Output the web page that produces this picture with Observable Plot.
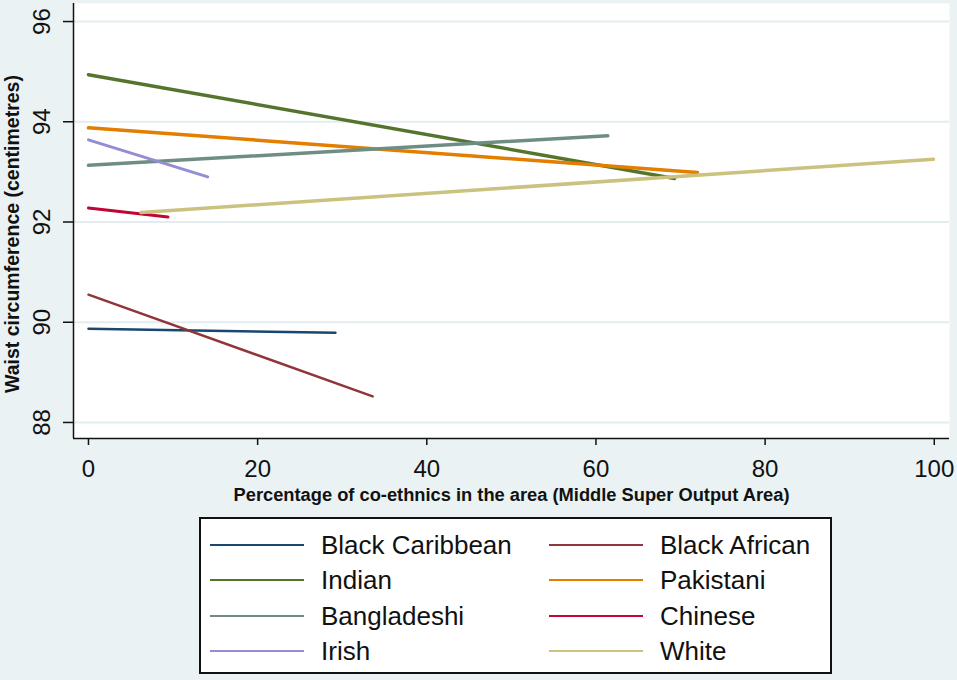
<!DOCTYPE html>
<html>
<head>
<meta charset="utf-8">
<script src="https://cdn.jsdelivr.net/npm/d3@7"></script>
<script src="https://cdn.jsdelivr.net/npm/@observablehq/plot@0.6"></script>
<style>
  html, body { margin: 0; padding: 0; background: #EAF2F3; }
  #wrap { position: relative; width: 957px; height: 680px; background: #EAF2F3; font-family: "Liberation Sans", Arial, sans-serif; }
  #legend { position: absolute; left: 199px; top: 517px; width: 629px; height: 153px; background: #fff; border: 2px solid #111; box-sizing: content-box; }
  .item { position: absolute; height: 30px; }
  .sw { position: absolute; top: 14px; width: 94px; height: 2px; }
  .lb { position: absolute; left: 111px; top: 0; font-size: 26px; line-height: 30px; color: #111; white-space: nowrap; }
</style>
</head>
<body>
<div id="wrap"><div id="chart"></div><div id="legend"></div></div>
<script>
// Categories and colours (Stata s2color palette)
const groups = ["Black Caribbean", "Black African", "Indian", "Pakistani", "Bangladeshi", "Chinese", "Irish", "White"];
const colors = ["#1a476f", "#90353b", "#55752f", "#e37e00", "#6e8e84", "#c10534", "#938dd2", "#cac27e"];
// Line endpoints: percentage of co-ethnics (x) and predicted waist (y)
const xStart = [0, 0, 0, 0, 0, 0, 0, 6.2];
const xEnd   = [29.2, 33.6, 69.3, 72.0, 61.4, 9.4, 14.1, 99.9];
const yStart = [89.87, 90.55, 94.94, 93.88, 93.13, 92.28, 93.64, 92.19];
const yEnd   = [89.79, 88.52, 92.87, 92.99, 93.72, 92.10, 92.90, 93.25];
const widths = [2.5, 2.5, 3.5, 3.5, 3.5, 3, 3, 3.5];
const xTicks = [0, 20, 40, 60, 80, 100];
const yTicks = [88, 90, 92, 94, 96];
const xDomain = [-1.77, 101.8];
const yDomain = [87.68, 96.36];

const rows = [];
groups.forEach((g, i) => {
  rows.push({group: g, x: xStart[i], y: yStart[i]});
  rows.push({group: g, x: xEnd[i], y: yEnd[i]});
});

const font = "Liberation Sans, Arial, sans-serif";
const chart = Plot.plot({
  width: 957,
  height: 510,
  marginLeft: 73,
  marginRight: 8,
  marginTop: 3,
  marginBottom: 72,
  style: {background: "transparent", fontFamily: font, color: "#111"},
  x: {domain: xDomain, ticks: xTicks},
  y: {domain: yDomain, ticks: yTicks},
  marks: [
    Plot.frame({fill: "white", stroke: null}),
    Plot.gridY(yTicks, {stroke: "#E3EDEF", strokeOpacity: 1, strokeWidth: 2}),
    ...groups.map((g, i) => Plot.line(rows.filter(r => r.group === g), {x: "x", y: "y", stroke: colors[i], strokeWidth: widths[i]})),
    Plot.ruleX([xDomain[0]], {stroke: "#111", strokeWidth: 1.5}),
    Plot.ruleY([yDomain[0]], {stroke: "#111", strokeWidth: 1.5}),
    Plot.axisX({ticks: xTicks, tickSize: 7, tickPadding: 14, fontSize: 24, label: null, stroke: "#111", strokeWidth: 1.5}),
    Plot.axisY({ticks: yTicks, tickSize: 10, tickFormat: () => "", label: null, stroke: "#111", strokeWidth: 1.5}),
    Plot.text(yTicks, {y: d => d, text: d => String(d), frameAnchor: "left", dx: -31, rotate: -90, fontSize: 24, textAnchor: "middle", lineAnchor: "middle", fill: "#111"}),
    Plot.text(["Percentage of co-ethnics in the area (Middle Super Output Area)"], {frameAnchor: "bottom", dy: 62, lineAnchor: "bottom", fontSize: 18.3, fontWeight: "bold", fill: "#111", dx: 0}),
    Plot.text(["Waist circumference (centimetres)"], {frameAnchor: "left", dx: -61, dy: 13, rotate: -90, fontSize: 19.5, fontWeight: "bold", textAnchor: "middle", lineAnchor: "middle", fill: "#111"})
  ]
});
document.getElementById("chart").appendChild(chart);

// Legend (two columns, four rows)
const legend = document.getElementById("legend");
const colLeft = [9, 348];
const rowTop = [11, 46, 82, 117];
groups.forEach((g, i) => {
  const col = i % 2, row = Math.floor(i / 2);
  const item = document.createElement("div");
  item.className = "item";
  item.style.left = colLeft[col] + "px";
  item.style.top = rowTop[row] + "px";
  const sw = document.createElement("div");
  sw.className = "sw";
  sw.style.background = colors[i];
  const lb = document.createElement("div");
  lb.className = "lb";
  lb.textContent = g;
  item.appendChild(sw);
  item.appendChild(lb);
  legend.appendChild(item);
});
</script>
</body>
</html>
